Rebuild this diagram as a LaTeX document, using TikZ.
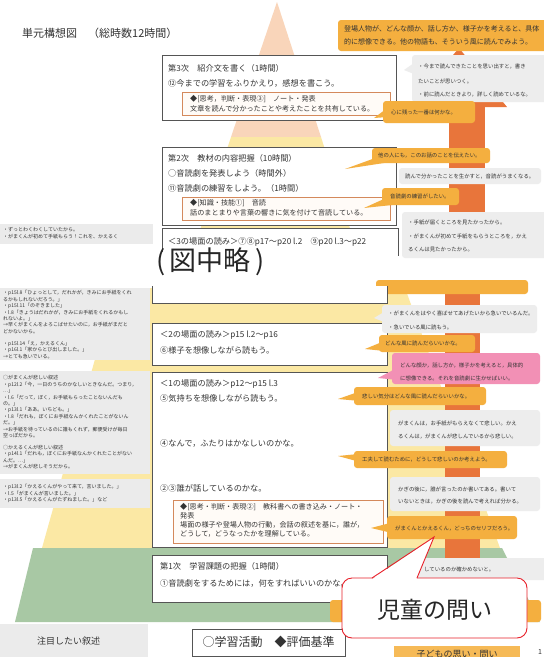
\documentclass[tikz,border=0pt]{standalone}
\usepackage{fontspec}
\setmainfont{Noto Sans CJK JP}
\definecolor{pyrPeach}{HTML}{F9D5BA}
\definecolor{pyrYellow}{HTML}{FBE8A4}
\definecolor{pyrGreen}{HTML}{A8C8A4}
\definecolor{shaftOr}{HTML}{E8753B}
\definecolor{bubOr}{HTML}{F4AF3F}
\definecolor{bubGray}{HTML}{EDEDED}
\definecolor{bubPink}{HTML}{F290B5}
\definecolor{evalBd}{HTML}{D4895C}
\definecolor{evalFill}{HTML}{FFFBF7}
\definecolor{panelGray}{HTML}{EBEBEB}
\definecolor{boxBd}{HTML}{555555}
\definecolor{txtCol}{HTML}{333333}
\definecolor{callRed}{HTML}{E8202A}
\definecolor{legendOr}{HTML}{F6BA57}
\begin{document}
\begin{tikzpicture}[x=1pt,y=-1pt,
  tx/.style={anchor=west,inner sep=0pt,text=txtCol},
  mtx/.style={tx,font=\fontsize{8.2}{9}\selectfont},
  etx/.style={tx,font=\fontsize{7.1}{8}\selectfont},
  btx/.style={tx,font=\fontsize{5.4}{6.5}\selectfont},
  ptx/.style={anchor=north west,inner sep=0pt,text=txtCol,align=left,font=\fontsize{5}{6.4}\selectfont},
  mainbox/.style={draw=boxBd,line width=0.9pt,fill=white},
  evalbox/.style={draw=evalBd,line width=0.9pt,fill=evalFill},
  obub/.style={fill=bubOr,rounded corners=3pt},
  gbub/.style={fill=bubGray,rounded corners=3pt},
  pbub/.style={fill=bubPink,rounded corners=3pt},
  panel/.style={fill=panelGray},
]
\useasboundingbox (0,0) rectangle (544,657);
\clip (0,0) rectangle (544,657);
\fill[white] (0,0) rectangle (544,657);

% ---------------- upper section ----------------
\node[tx,font=\fontsize{11}{12}\selectfont] (title) at (22,33) {単元構想図　（総時数12時間）};

% pyramid top
\fill[pyrPeach] (277,2) -- (321,137) -- (231,137) -- cycle;
\fill[pyrYellow] (231,137) -- (321,137) -- (360,260) -- (190,260) -- cycle;
% big orange arrow
\fill[shaftOr] (459,48) -- (507,107) -- (409,107) -- cycle;
\fill[shaftOr] (449,106) rectangle (485,256);

% top orange bubble
\fill[obub] (338,20) rectangle (547,51);
\node[tx,font=\fontsize{7}{8}\selectfont] (topA) at (344,29) {登場人物が、どんな顔か、話し方か、様子かを考えると、具体};
\node[tx,font=\fontsize{7}{8}\selectfont] (topB) at (344,42) {的に想像できる。他の物語も、そういう風に読んでみよう。};

% box 3
\draw[mainbox] (162,55) rectangle (396,120);
\node[mtx] (b3a) at (168,68) {第3次　紹介文を書く（1時間）};
\node[mtx] (b3b) at (168,83) {⑫今までの学習をふりかえり，感想を書こう。};
\draw[evalbox] (182,92) rectangle (390,115);
\node[etx] (b3c) at (190,99) {◆[思考，判断・表現③]　ノート・発表};
\node[etx] (b3d) at (190,109) {文章を読んで分かったことや考えたことを共有している。};

% gray bubble top right
\fill[gbub] (412,55) rectangle (547,102);
\fill[bubGray] (414,63) -- (404,70) -- (414,74) -- cycle;
\node[btx] (g0a) at (418,67) {・今まで読んできたことを思い出すと，書き};
\node[btx] (g0b) at (418,81) {たいことが思いつく。};
\node[btx] (g0c) at (418,95) {・前に読んだときより，詳しく読めているな。};

% orange bubble "心に残った"
\fill[obub] (383,101) rectangle (475,123);
\fill[bubOr] (386,109) -- (374,118) -- (388,117) -- cycle;
\node[btx] (o0) at (391,112) {心に残った一番は何かな。};

% box 2
\draw[mainbox] (162,147) rectangle (396,225);
\node[mtx] (b2a) at (168,158) {第2次　教材の内容把握（10時間）};
\node[mtx] (b2b) at (168,173) {○音読劇を発表しよう（時間外）};
\node[mtx] (b2c) at (168,188) {⑪音読劇の練習をしよう。（1時間）};
\draw[evalbox] (182,197) rectangle (390,220);
\node[etx] (b2d) at (190,203) {◆[知識・技能①]　音読};
\node[etx] (b2e) at (190,213) {話のまとまりや言葉の響きに気を付けて音読している。};

\fill[obub] (372,148) rectangle (490,163);
\fill[bubOr] (378,157) -- (345,169) -- (384,163) -- cycle;
\node[btx] (o1) at (378,155.5) {他の人にも，このお話のことを伝えたい。};
\fill[gbub] (399,168) rectangle (541,184);
\node[btx] (g1) at (405,176) {読んで分かったことを生かすと，音読がうまくなる。};
\fill[obub] (382,188) rectangle (459,205);
\fill[bubOr] (386,198) -- (364,208) -- (392,205) -- cycle;
\node[btx] (o2) at (390,196.5) {音読劇の練習がしたい。};
\fill[gbub] (402,212) rectangle (547,258);
\node[btx] (g2a) at (408,222) {・手紙が届くところを見たかったから。};
\node[btx] (g2b) at (408,236) {・がまくんが初めて手紙をもらうところを，かえ};
\node[btx] (g2c) at (408,250) {るくんは見たかったから。};

% box <3>
\fill[white] (162,228) rectangle (398,262);
\draw[boxBd,line width=0.9pt] (162,252) -- (162,228) -- (398,228) -- (398,256);
\node[mtx] (b3s) at (168,242) {＜3の場面の読み＞⑦⑧p17～p20 l.2　⑨p20 l.3～p22};

% left gray top
\fill[panel] (0,224) rectangle (153,244);
\node[ptx] (lp0) at (3,227.5) {・ずっとわくわくしていたから。\\・がまくんが初めて手紙もらう！これを、かえるく};

\node[tx,text=black!85,font=\fontsize{27}{29}\selectfont] (omit) at (156,262) {(\,図中略\,)};

% ---------------- lower section ----------------
\fill[pyrYellow] (115,288) -- (405,288) -- (500,548) -- (42,548) -- cycle;
\fill[pyrGreen] (33,548) -- (502,548) -- (540,622) -- (15,622) -- cycle;
\fill[shaftOr] (445,288) rectangle (480,560);
\fill[obub] (376,280) rectangle (528,294);

% left panels
\fill[panel] (0,288) rectangle (150,360);
\node[ptx] (lpA) at (3,290.5) {・p15l.8「ひょっとして，だれかが，きみにお手紙をくれ\\るかもしれないだろう。」\\・p15l.11「のぞきました」\\・l.8「きょうはだれかが，きみにお手紙をくれるかもし\\れないよ。」\\→早くがまくんをよろこばせたいのに，お手紙がまだと\\どかないから。\\[5.7pt]・p15l.14「え，かえるくん」\\・p16l.1「家からとび出しました。」\\→とても急いでいる。};
\fill[panel] (0,371) rectangle (150,474);
\node[ptx] (lpB) at (3,375.5) {○がまくんが悲しい叙述\\・p12l.2「今，一日のうちのかなしいときなんだ。つまり，\\…」\\・l.6「だって，ぼく，お手紙もらったことないんだも\\の。」\\・p13l.1「ああ。いちども。」\\・l.8「だれも，ぼくにお手紙なんかくれたことがないん\\だ。」\\→お手紙を待っているのに誰もくれず，郵便受けが毎日\\空っぽだから。\\[5.6pt]○かえるくんが悲しい叙述\\・p14l.1「だれも，ぼくにお手紙なんかくれたことがない\\んだ。…」\\→がまくんが悲しそうだから。};
\fill[panel] (0,479) rectangle (150,508);
\node[ptx] (lpC) at (3,484.5) {・p13l.2「かえるくんがやって来て，言いました。」\\・l.5「がまくんが言いました。」\\・p13l.5「かえるくんがたずねました。」など};

% main boxes
\fill[white] (152,286) rectangle (387,303);
\draw[boxBd,line width=0.9pt] (152,286) -- (152,303) -- (387,303) -- (387,286);
\draw[mainbox] (152,323) rectangle (387,365);
\node[mtx] (s2a) at (160,335) {＜2の場面の読み＞p15 l.2～p16};
\node[mtx] (s2b) at (160,350) {⑥様子を想像しながら読もう。};
\draw[mainbox] (152,372) rectangle (387,547);
\node[mtx] (s1a) at (160,384) {＜1の場面の読み＞p12～p15 l.3};
\node[mtx] (s1b) at (160,398) {⑤気持ちを想像しながら読もう。};
\node[mtx] (s1c) at (160,443) {④なんで，ふたりはかなしいのかな。};
\node[mtx] (s1d) at (160,488) {②③誰が話しているのかな。};
\draw[evalbox] (173,500) rectangle (383,543);
\node[anchor=north west,inner sep=0pt,text=txtCol,align=left,font=\fontsize{7.1}{8.8}\selectfont] (s1e) at (180,503.5) {◆[思考・判断・表現②]　教科書への書き込み・ノート・\\発表\\場面の様子や登場人物の行動，会話の叙述を基に，誰が，\\どうして，どうなったかを理解している。};
\draw[mainbox] (152,555) rectangle (387,602);
\node[mtx] (p1a) at (160,566) {第1次　学習課題の把握（1時間）};
\node[mtx] (p1b) at (160,583) {①音読劇をするためには，何をすればいいのかな。};

% right bubbles lower
\fill[gbub] (382,305) rectangle (537,333);
\fill[bubGray] (384,312) -- (374,318) -- (384,322) -- cycle;
\node[btx] (lg1a) at (388,313) {・がまくんをはやく喜ばせてあげたいから急いでいるんだ。};
\node[btx] (lg1b) at (388,327) {・急いでいる風に読もう。};
\fill[obub] (379,335) rectangle (475,352);
\fill[bubOr] (382,342) -- (365,349) -- (385,351) -- cycle;
\node[btx] (lo1) at (385,343.5) {どんな風に読んだらいいかな。};
\fill[pbub] (392,353) rectangle (540,384);
\fill[bubPink] (395,369) -- (378,378) -- (398,380) -- cycle;
\node[btx] (lp1a) at (400,366) {どんな顔か，話し方か，様子かを考えると，具体的};
\node[btx] (lp1b) at (400,378) {に想像できる。それを音読劇に生かせばいい。};
\fill[obub] (354,387) rectangle (486,405);
\fill[bubOr] (358,392) -- (338,399) -- (360,401) -- cycle;
\node[btx] (lo2) at (362,396) {悲しい気分はどんな風に読んだらいいかな。};
\fill[gbub] (390,410) rectangle (540,446);
\node[btx] (lg2a) at (398,423) {がまくんは，お手紙がもらえなくて悲しい。かえ};
\node[btx] (lg2b) at (398,436) {るくんは，がまくんが悲しんでいるから悲しい。};
\fill[obub] (354,451) rectangle (507,468);
\fill[bubOr] (358,454) -- (338,456) -- (360,462) -- cycle;
\node[btx] (lo3) at (362,460) {工夫して読むために，どうして悲しいのか考えよう。};
\fill[gbub] (390,477) rectangle (540,511);
\node[btx] (lg3a) at (398,489) {かぎの後に，誰が言ったのか書いてある。書いて};
\node[btx] (lg3b) at (398,502) {いないときは，かぎの後を読んで考えれば分かる。};
\fill[obub] (387,516) rectangle (517,539);
\fill[bubOr] (390,523) -- (371,528) -- (392,533) -- cycle;
\node[btx] (lo4) at (395,528) {がまくんとかえるくん，どっちのセリフだろう。};
\fill[gbub] (400,558) rectangle (547,580);
\node[btx] (lg4) at (424,569) {しているのか確かめないと。};
\fill[obub] (330,600) rectangle (541,622);

% legend and bottom
\fill[panel] (0,624) rectangle (148,660);
\node[tx,font=\fontsize{9}{10}\selectfont] (note) at (37,641) {注目したい叙述};
\draw[boxBd,line width=0.9pt,fill=white] (192,629) rectangle (345,656);
\node[inner sep=0pt,text=txtCol,font=\fontsize{12}{13}\selectfont] (legend) at (268.5,641.5) {○学習活動　◆評価基準};
\fill[legendOr] (394,646) rectangle (520,662);
\node[inner sep=0pt,text=txtCol,font=\fontsize{9}{10}\selectfont] (kodomo) at (457,654) {子どもの思い・問い};
\node[inner sep=0pt,text=txtCol,font=\fontsize{7}{8}\selectfont] (pnum) at (540,652) {1};

% red callout
\filldraw[draw=callRed,fill=white,line width=0.9pt,rounded corners=10pt] (342,578) rectangle (527,638);
\coordinate (qtip) at (434,537);
\coordinate (qbL) at (372,578);
\coordinate (qbR) at (417,578);
\fill[white] (372.5,579) -- (qtip) -- (416.5,579) -- cycle;
\draw[callRed,line width=0.9pt,line join=miter] (qbL) -- (qtip) -- (qbR);
\node[inner sep=0pt,text=black!85,font=\fontsize{23}{25}\selectfont] (qlabel) at (434.5,610) {児童の問い};
\end{tikzpicture}
\end{document}
